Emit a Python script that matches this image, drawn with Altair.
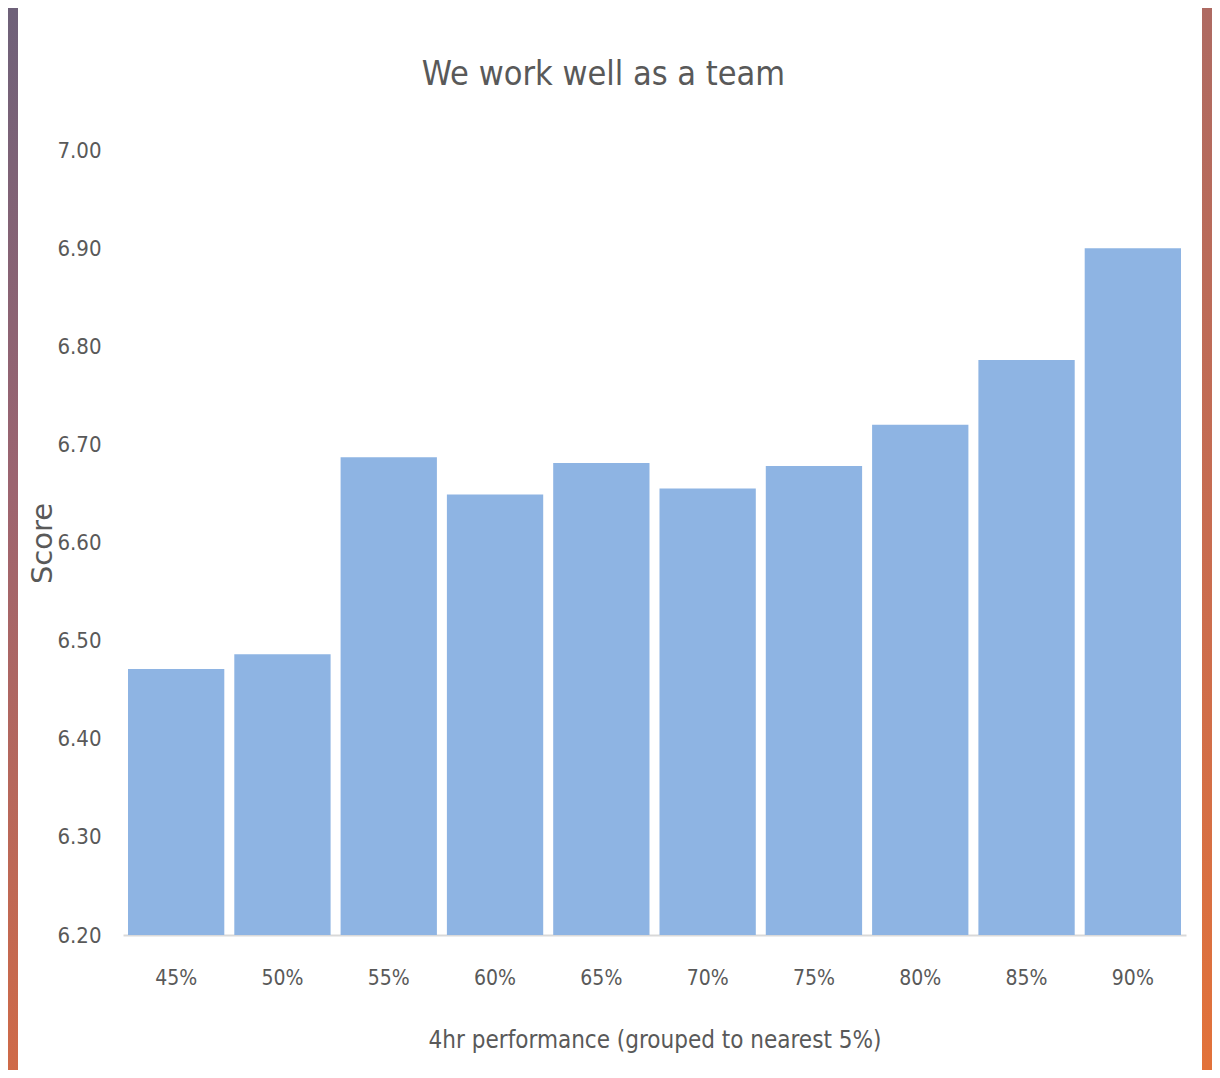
import altair as alt
import pandas as pd

categories = ["45%", "50%", "55%", "60%", "65%", "70%", "75%", "80%", "85%", "90%"]
scores = [6.471, 6.486, 6.687, 6.649, 6.681, 6.655, 6.678, 6.720, 6.786, 6.900]
y_ticks = [6.2, 6.3, 6.4, 6.5, 6.6, 6.7, 6.8, 6.9, 7.0]

df = pd.DataFrame({"group": categories, "score": scores})

FONT = "DejaVu Sans Condensed, Liberation Sans Narrow, sans-serif"
TXT = "#595959"

bars = alt.Chart(df).mark_bar(color="#8EB4E3").encode(
    x=alt.X(
        "group:N",
        sort=categories,
        scale=alt.Scale(paddingInner=0.094, paddingOuter=0.047),
        axis=alt.Axis(
            title="4hr performance (grouped to nearest 5%)",
            labelAngle=0,
            labelFont=FONT,
            labelFontSize=21,
            labelColor=TXT,
            labelPadding=32,
            ticks=False,
            tickSize=0,
            domainColor="#d9d9d9",
            domainWidth=2,
            titleFont=FONT,
            titleFontSize=24,
            titleFontWeight="normal",
            titleColor=TXT,
            titleY=105,
            titleBaseline="middle",
        ),
    ),
    y=alt.Y(
        "score:Q",
        scale=alt.Scale(domain=[6.2, 7.0], zero=False, nice=False),
        axis=alt.Axis(
            title="Score",
            values=y_ticks,
            format=".2f",
            grid=False,
            domain=False,
            ticks=False,
            tickSize=0,
            labelFont=FONT,
            labelFontSize=22,
            labelColor=TXT,
            labelPadding=22,
            titleFont="DejaVu Sans",
            titleFontSize=29,
            titleFontWeight="normal",
            titleColor=TXT,
            titleX=-81,
            titleY=393,
            titleAngle=-90,
            titleBaseline="middle",
            titleAlign="center",
        ),
    ),
    y2=alt.datum(6.2),
)

one = alt.Data(values=[{"k": 1}])

left_strip = alt.Chart(one).mark_rect(
    color=alt.LinearGradient(
        gradient="linear",
        stops=[
            alt.GradientStop(color="#6e6179", offset=0),
            alt.GradientStop(color="#9c6470", offset=0.45),
            alt.GradientStop(color="#cf6a48", offset=1),
        ],
        x1=0, x2=0, y1=0, y2=1,
    )
).encode(x=alt.value(-123), x2=alt.value(-105), y=alt.value(-142), y2=alt.value(920))

right_strip = alt.Chart(one).mark_rect(
    color=alt.LinearGradient(
        gradient="linear",
        stops=[
            alt.GradientStop(color="#ae6a62", offset=0),
            alt.GradientStop(color="#c86c50", offset=0.5),
            alt.GradientStop(color="#e2723a", offset=1),
        ],
        x1=0, x2=0, y1=0, y2=1,
    )
).encode(x=alt.value(1079), x2=alt.value(1089), y=alt.value(-142), y2=alt.value(920))

chart = alt.layer(bars, left_strip, right_strip).properties(
    width=1063,
    height=785,
    title=alt.TitleParams(
        "We work well as a team",
        font=FONT,
        fontSize=34,
        fontWeight="normal",
        color=TXT,
        anchor="middle",
        frame="group",
        baseline="alphabetic",
        offset=62,
        dy=173,
        dx=-51,
    ),
    autosize=alt.AutoSizeParams(type="none"),
    padding={"left": 115, "top": 142, "right": 26, "bottom": 135},
).configure(background="white").configure_view(stroke=None)

chart.save("out.html", embed_options={"renderer": "svg", "actions": False})
